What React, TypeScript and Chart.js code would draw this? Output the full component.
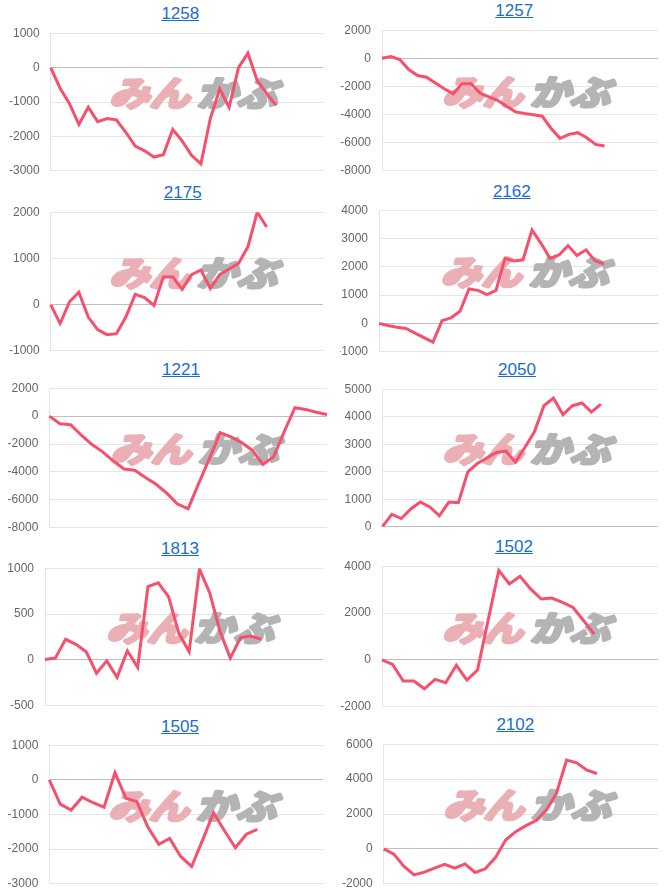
import React, { useEffect, useRef } from "react";
import { Chart, registerables } from "chart.js";
Chart.register(...registerables);

// ---- data ----
const CODES = ["1258", "1257", "2175", "2162", "1221", "2050", "1813", "1502", "1505", "2102"];

const S1258 = [0, -600, -1050, -1650, -1150, -1570, -1480, -1520, -1880, -2280, -2420, -2600, -2530, -1800, -2130, -2550, -2800, -1480, -620, -1160, 0, 420, -380, -750, -1100];
const S1257 = [0, 120, -90, -800, -1220, -1340, -1760, -2160, -2520, -1810, -1810, -2470, -2750, -2990, -3410, -3810, -3930, -4020, -4120, -4990, -5690, -5410, -5290, -5650, -6120, -6240];
const S2175 = [0, -410, 60, 270, -270, -540, -650, -630, -270, 220, 150, -20, 600, 600, 330, 650, 750, 350, 650, 770, 890, 1250, 2000, 1680];
const S2162 = [0, -70, -130, -175, -340, -500, -660, 100, 200, 430, 1220, 1170, 1020, 1170, 2300, 2210, 2250, 3300, 2830, 2300, 2420, 2750, 2400, 2600, 2220, 2100];
const S1221 = [0, -545, -615, -1370, -2040, -2560, -3220, -3790, -3880, -4400, -4880, -5520, -6300, -6630, -4800, -3030, -1180, -1490, -1890, -2440, -3460, -2910, -1100, 600, 480, 280, 110];
const S2050 = [0, 450, 300, 650, 900, 720, 400, 900, 880, 2000, 2300, 2500, 2700, 2750, 2350, 2880, 3450, 4400, 4680, 4080, 4400, 4500, 4170, 4460];
const S1813 = [5, 20, 225, 170, 90, -145, -10, -190, 100, -80, 800, 840, 690, 290, 90, 990, 730, 310, 20, 245, 260, 225];
const S1502 = [0, -190, -900, -900, -1230, -830, -970, -230, -860, -430, 1700, 3820, 3240, 3570, 3030, 2600, 2640, 2460, 2240, 1670, 1100];
const S1505 = [0, -700, -870, -500, -660, -790, 210, -530, -630, -1360, -1860, -1690, -2210, -2500, -1740, -950, -1470, -1960, -1570, -1430];
const S2102 = [0, -300, -1000, -1490, -1330, -1100, -880, -1100, -860, -1350, -1140, -500, 510, 990, 1330, 1620, 2230, 3180, 5090, 4930, 4510, 4320];

const SERIES = [S1258, S1257, S2175, S2162, S1221, S2050, S1813, S1502, S1505, S2102];
// number of x categories (days) on each chart's axis
const X_COUNTS = [30, 32, 30, 32, 27, 30, 28, 27, 26, 28];
const Y_MIN = [-3000, -8000, -1000, -1000, -8000, 0, -500, -2000, -3000, -2000];
const Y_MAX = [1000, 2000, 2000, 4000, 2000, 5000, 1000, 4000, 1000, 6000];
const Y_STEP = [1000, 2000, 1000, 1000, 2000, 1000, 500, 2000, 1000, 2000];

// ---- layout (page pixels) ----
type Box = { left: number; gridTop: number; gridBottom: number; axisX: number; rightX: number; tx: number; ty: number };
const LAYOUT: Box[] = [
  { left: 8, gridTop: 33.3, gridBottom: 170.7, axisX: 50.7, rightX: 323, tx: 180.3, ty: 14.2 },
  { left: 340, gridTop: 30, gridBottom: 171, axisX: 382, rightX: 658, tx: 514.2, ty: 10.7 },
  { left: 8, gridTop: 212.3, gridBottom: 350.7, axisX: 50.7, rightX: 323, tx: 182.7, ty: 193 },
  { left: 340, gridTop: 210, gridBottom: 351.7, axisX: 379, rightX: 658, tx: 511.8, ty: 191.7 },
  { left: 8, gridTop: 388.3, gridBottom: 528.3, axisX: 49.3, rightX: 326.7, tx: 181, ty: 370 },
  { left: 340, gridTop: 389.3, gridBottom: 527.3, axisX: 382.3, rightX: 658, tx: 517, ty: 370 },
  { left: 8, gridTop: 568.3, gridBottom: 706, axisX: 45, rightX: 323, tx: 180, ty: 549 },
  { left: 340, gridTop: 565.7, gridBottom: 706.7, axisX: 382, rightX: 658, tx: 514, ty: 546.7 },
  { left: 8, gridTop: 745, gridBottom: 883.3, axisX: 49.3, rightX: 323, tx: 180, ty: 726.7 },
  { left: 340, gridTop: 744.3, gridBottom: 884, axisX: 383.7, rightX: 658, tx: 515.3, ty: 725 },
];

const PAD = 7.2;
const FONT = "'Liberation Sans', Arial, Helvetica, sans-serif";

const watermark = {
  id: "wm",
  beforeDatasetsDraw(chart: any) {
    const { ctx, chartArea: a } = chart;
    const cx = (a.left + a.right) / 2 + 10;
    const cy = (a.top + a.bottom) / 2 - 9;
    ctx.save();
    ctx.translate(cx, cy);
    ctx.transform(1, 0, -0.28, 1, 0, 0);
    ctx.scale(1.12, 0.95);
    ctx.font = "bold 36px 'Noto Sans CJK JP', sans-serif";
    ctx.textBaseline = "middle";
    ctx.lineJoin = "round";
    ctx.lineWidth = 3.5;
    ctx.textAlign = "right";
    ctx.fillStyle = "#ebb0b5";
    ctx.strokeStyle = "#ebb0b5";
    ctx.strokeText("みん", -3, 0);
    ctx.fillText("みん", -3, 0);
    ctx.textAlign = "left";
    ctx.fillStyle = "#b4b4b4";
    ctx.strokeStyle = "#b4b4b4";
    ctx.strokeText("かぶ", 3, 0);
    ctx.fillText("かぶ", 3, 0);
    ctx.restore();
  },
};

function Panel({ idx }: { idx: number }) {
  const ref = useRef<HTMLCanvasElement | null>(null);
  const L = LAYOUT[idx];
  const top = L.gridTop - PAD;
  const h = Math.round(L.gridBottom - L.gridTop + 2 * PAD);
  const w = Math.round(L.rightX - L.left);
  useEffect(() => {
    if (!ref.current) return;
    const labels = Array.from({ length: X_COUNTS[idx] }, (_, i) => String(i + 1));
    const chart = new Chart(ref.current, {
      type: "line",
      data: {
        labels,
        datasets: [
          {
            data: SERIES[idx],
            borderColor: "rgb(247,80,108)",
            backgroundColor: "rgb(247,80,108)",
            borderWidth: 3,
            pointRadius: 0,
            tension: 0,
            fill: false,
          },
        ],
      },
      options: {
        animation: false,
        responsive: false,
        events: [],
        layout: { padding: 0 },
        plugins: { legend: { display: false }, tooltip: { enabled: false } },
        scales: {
          x: { display: false },
          y: {
            min: Y_MIN[idx],
            max: Y_MAX[idx],
            afterFit: (s: any) => {
              s.width = L.axisX - L.left;
            },
            ticks: {
              stepSize: Y_STEP[idx],
              color: "#666",
              padding: 0,
              font: { family: FONT, size: 12 },
              callback: (v: any) => String(v),
            },
            grid: {
              color: (c: any) => (c.tick && c.tick.value === 0 ? "rgba(0,0,0,0.25)" : "rgba(0,0,0,0.1)"),
              drawTicks: true,
              tickLength: 11,
              tickColor: "rgba(0,0,0,0)",
            },
            border: { display: true, color: "rgba(0,0,0,0.1)" },
          },
        },
      },
      plugins: [watermark],
    });
    return () => chart.destroy();
  }, [idx]);
  return (
    <>
      <div
        style={{
          position: "absolute",
          left: L.tx - 60,
          top: L.ty - 10,
          width: 120,
          textAlign: "center",
          lineHeight: "20px",
          fontFamily: FONT,
          fontSize: 17,
        }}
      >
        <a href="#" style={{ color: "#1a6dcc", textDecoration: "underline" }}>
          {CODES[idx]}
        </a>
      </div>
      <canvas
        ref={ref}
        width={w}
        height={h}
        style={{ position: "absolute", left: L.left, top, width: w, height: h }}
      />
    </>
  );
}

export default function App() {
  return (
    <div style={{ position: "absolute", left: 0, top: 0, width: 666, height: 889, background: "#fff", overflow: "hidden" }}>
      {CODES.map((_, i) => (
        <Panel key={i} idx={i} />
      ))}
    </div>
  );
}
